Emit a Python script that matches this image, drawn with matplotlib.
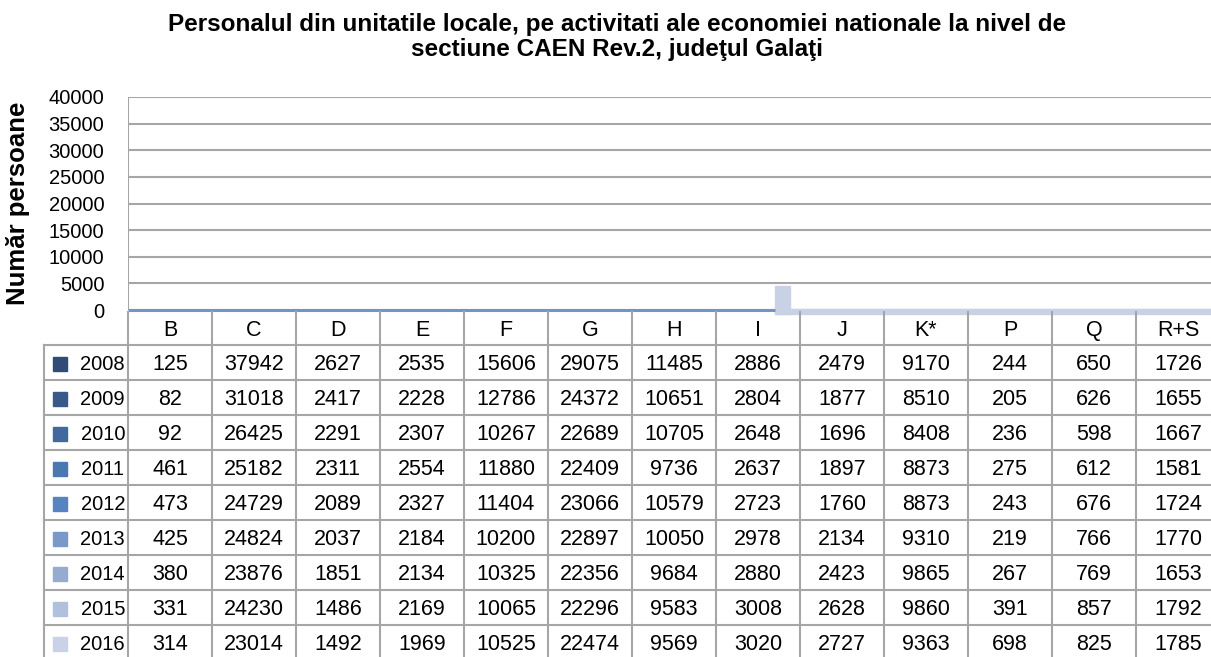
import matplotlib
matplotlib.use("Agg")
from matplotlib import pyplot as plt
from matplotlib.patches import Rectangle

plt.rcParams['font.family'] = ['Liberation Sans', 'DejaVu Sans']

# sections CAEN Rev.2 (columns of the data table)
sections = ["B", "C", "D", "E", "F", "G", "H", "I", "J", "K*", "P", "Q", "R+S"]
years = ["2008", "2009", "2010", "2011", "2012", "2013", "2014", "2015", "2016"]

# number of persons per section, one list per year
v2008 = [125, 37942, 2627, 2535, 15606, 29075, 11485, 2886, 2479, 9170, 244, 650, 1726]
v2009 = [82, 31018, 2417, 2228, 12786, 24372, 10651, 2804, 1877, 8510, 205, 626, 1655]
v2010 = [92, 26425, 2291, 2307, 10267, 22689, 10705, 2648, 1696, 8408, 236, 598, 1667]
v2011 = [461, 25182, 2311, 2554, 11880, 22409, 9736, 2637, 1897, 8873, 275, 612, 1581]
v2012 = [473, 24729, 2089, 2327, 11404, 23066, 10579, 2723, 1760, 8873, 243, 676, 1724]
v2013 = [425, 24824, 2037, 2184, 10200, 22897, 10050, 2978, 2134, 9310, 219, 766, 1770]
v2014 = [380, 23876, 1851, 2134, 10325, 22356, 9684, 2880, 2423, 9865, 267, 769, 1653]
v2015 = [331, 24230, 1486, 2169, 10065, 22296, 9583, 3008, 2628, 9860, 391, 857, 1792]
v2016 = [314, 23014, 1492, 1969, 10525, 22474, 9569, 3020, 2727, 9363, 698, 825, 1785]
values = [v2008, v2009, v2010, v2011, v2012, v2013, v2014, v2015, v2016]

y_ticks = [0, 5000, 10000, 15000, 20000, 25000, 30000, 35000, 40000]

colors = ["#2f4b76", "#385a8a", "#41699e", "#4a78b0", "#5584c0",
          "#7a98c8", "#97abd0", "#b1c0dc", "#c9d2e6"]
grid_c = "#a6a6a6"

W, H = 1211, 657
fig = plt.figure(figsize=(W / 100, H / 100), dpi=100)

def box(x0, y0, x1, y1):
    # pixel box -> figure fraction
    return [x0 / W, 1 - y1 / H, (x1 - x0) / W, (y1 - y0) / H]

# plot area (the bars of the original chart are not rendered)
ax = fig.add_axes(box(128, 97, 1220, 310))
ax.set_xlim(0, len(sections))
ax.set_ylim(0, 40000)
ax.set_yticks(y_ticks)
ax.set_yticklabels([str(t) for t in y_ticks], fontsize=14.5)
ax.tick_params(axis='y', length=0, pad=17)
ax.set_xticks([])
for t in y_ticks:
    ax.axhline(t, color=grid_c, lw=1.5, zorder=1)
for s in ax.spines.values():
    s.set_visible(False)
ax.axvline(0, color=grid_c, lw=1.5)
ax.set_ylabel("Număr persoane", fontsize=18.5, fontweight='bold')
ax.yaxis.set_label_coords((30 - 128) / 1092, 0.5)

# remains of the 3D floor
ax.plot([0, 7.70], [0, 0], color="#7096c8", lw=2.2, solid_capstyle='butt',
        zorder=5, clip_on=False)
ax.add_patch(Rectangle((7.70, -700), 0.18, 5300, color="#c8d2e4", clip_on=False, zorder=3))
ax.add_patch(Rectangle((7.70, -700), 6.0, 950, color="#c8d2e4", clip_on=False, zorder=3))

# data table
tb = fig.add_axes(box(44, 310, 1220, 660))
tb.set_xlim(-1, len(sections))
tb.set_ylim(len(years) + 1, 0)
tb.axis('off')
nrow = len(years) + 1
for i in range(len(sections) + 1):
    tb.plot([i, i], [0.05, nrow], color=grid_c, lw=1.5, clip_on=False)
tb.plot([-1, -1], [1, nrow], color=grid_c, lw=1.5, clip_on=False)
for j in range(1, nrow + 1):
    tb.plot([-1, len(sections)], [j, j], color=grid_c, lw=1.5, clip_on=False)

for i, s in enumerate(sections):
    tb.text(i + 0.5, 0.58, s, ha='center', va='center', fontsize=15.5)
for j, (yr, row) in enumerate(zip(years, values)):
    yc = j + 1.55
    tb.add_patch(Rectangle((-0.89, yc - 0.2), 0.16, 0.4, color=colors[j]))
    tb.text(-0.30, yc, yr, ha='center', va='center', fontsize=14.5)
    for i, v in enumerate(row):
        tb.text(i + 0.5, yc, str(v), ha='center', va='center', fontsize=15.5)

fig.text(617 / W, 1 - 37 / H,
         "Personalul din unitatile locale, pe activitati ale economiei nationale la nivel de\n"
         "sectiune CAEN Rev.2, judeţul Galaţi",
         ha='center', va='center', fontsize=17.5, fontweight='bold', linespacing=1.15)

plt.savefig("out.png", dpi=100)
